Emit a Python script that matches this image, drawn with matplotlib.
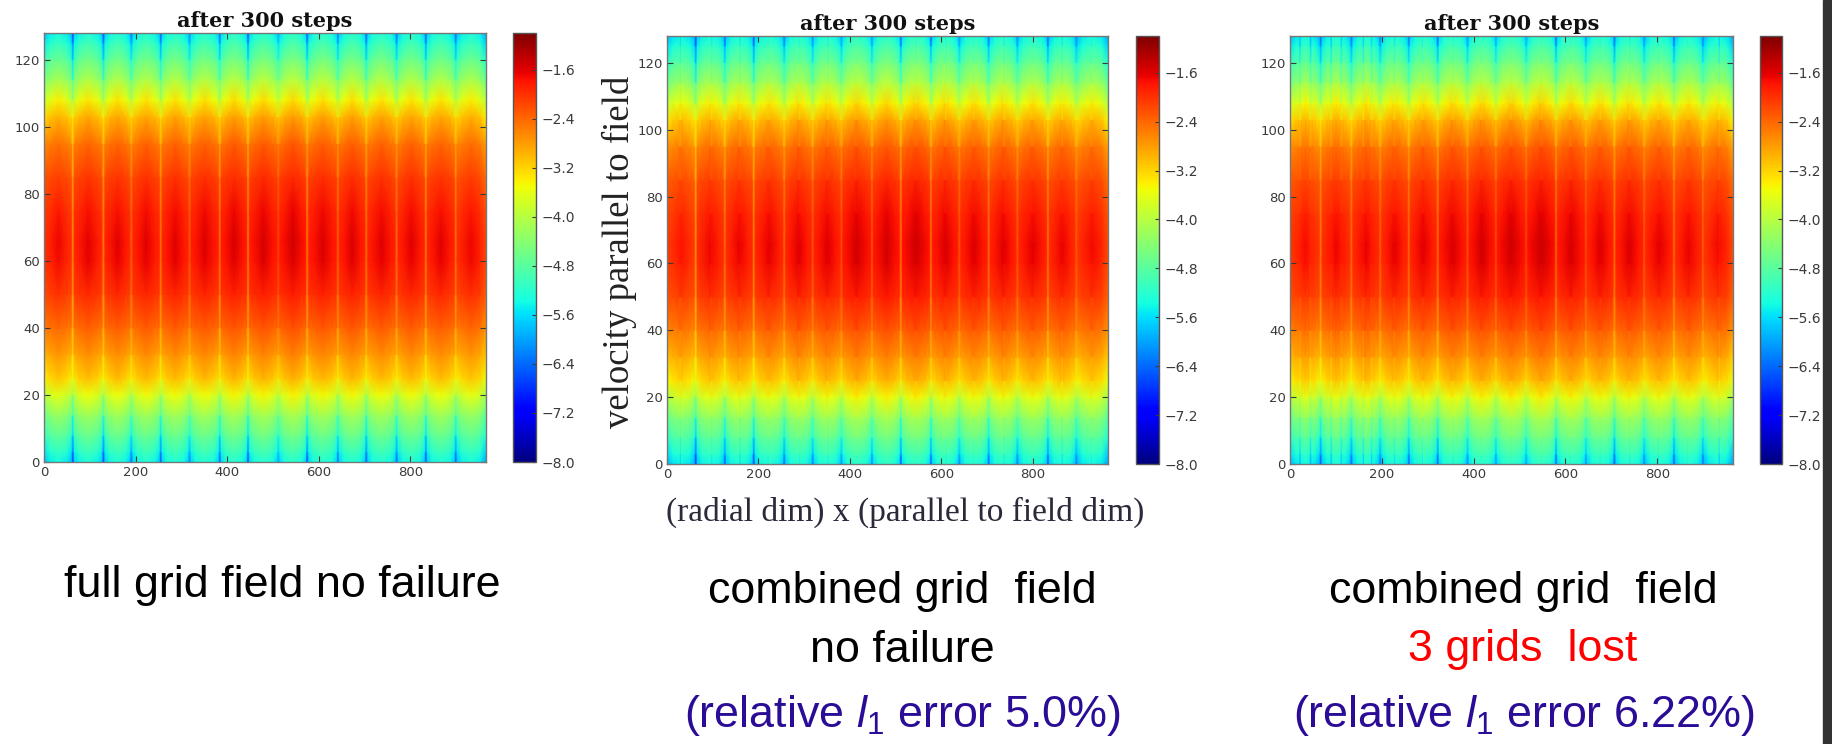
import numpy as np
import matplotlib
matplotlib.use("Agg")
import matplotlib.pyplot as plt
from matplotlib.patches import Rectangle

W, H = 1832, 744

# --- values ---------------------------------------------------------------
row_y = [0, 3, 8, 14, 20, 25, 32, 40, 50, 60, 66, 75, 85, 95, 103, 108, 114, 120, 125, 128]
crest_profile = [-5.25, -5.0, -4.6, -4.15, -3.5, -3.0, -2.65, -2.3, -1.9, -1.62, -1.58, -1.72, -2.0,
                 -2.35, -2.85, -3.3, -4.0, -4.55, -4.95, -5.25]
shoulder_profile = [-5.4, -5.15, -4.75, -4.3, -3.7, -3.15, -2.78, -2.4, -2.0, -1.82, -1.8, -1.9, -2.1,
                    -2.48, -3.0, -3.55, -4.2, -4.7, -5.15, -5.4]
near_profile = [-5.7, -5.45, -5.0, -4.5, -3.9, -3.3, -2.85, -2.45, -2.05, -1.9, -1.88, -1.96, -2.15,
                -2.55, -3.15, -3.75, -4.4, -4.95, -5.4, -5.7]
streak_profile = [-6.6, -6.2, -5.6, -5.0, -4.2, -3.5, -3.15, -2.85, -2.6, -2.45, -2.5, -2.5, -2.65,
                  -2.9, -3.35, -4.1, -4.8, -5.5, -6.1, -6.6]

x_end = 965
streaks_a = [63, 130, 191, 255, 318, 384, 446, 512, 575, 642, 704, 770, 834, 899]
streaks_b = [63, 127, 190, 257, 319, 382, 449, 512, 578, 640, 704, 767, 834, 896]
streaks_c = [67, 134, 197, 259, 322, 387, 449, 515, 580, 645, 707, 772, 837, 900]
depth_a = [0.9, 1.0, 0.7, 0.9, 0.6, 0.8, 1.0, 0.4, 1.0, 0.7, 0.9, 0.8, 0.9, 0.8]
depth_b = [0.9, 0.7, 0.9, 0.7, 0.6, 0.5, 0.6, 0.9, 0.9, 0.6, 0.8, 0.6, 0.8, 0.6]
depth_c = [0.7, 0.7, 0.6, 0.7, 0.8, 0.6, 0.5, 0.5, 0.9, 0.5, 0.9, 0.6, 0.8, 0.6]
lobe_a = [-0.10, -0.03, -0.02, -0.01, 0.0, 0.01, 0.04, 0.05, 0.07, 0.03, 0.02, 0.0, -0.01, -0.02, -0.08]
lobe_b = [-0.18, -0.08, -0.05, -0.03, 0.0, 0.02, 0.08, 0.08, 0.10, 0.04, 0.02, 0.0, -0.02, -0.05, -0.12]
lobe_c = [-0.14, -0.08, -0.05, -0.03, -0.01, 0.04, 0.08, 0.10, 0.12, 0.06, 0.02, 0.02, -0.02, -0.05, -0.12]
# weak extra furrows that roughen panels two and three
minor_b = [30, 98, 160, 222, 290, 352, 415, 545, 610, 672, 738, 800, 865, 930]
minor_b_depth = [0.22, 0.18, 0.25, 0.18, 0.14, 0.18, 0.12, 0.12, 0.16, 0.12, 0.18, 0.22, 0.25, 0.18]
minor_c = [22, 45, 90, 112, 160, 178, 228, 290, 355, 418, 482, 548, 612, 676, 740, 804, 868, 935]
minor_c_depth = [0.28, 0.32, 0.32, 0.28, 0.32, 0.25, 0.28, 0.25, 0.16, 0.12, 0.1, 0.12, 0.16, 0.16, 0.2, 0.24, 0.24, 0.28]
edge_weight = [1.4, 1.5, 1.3, 1.0, .7, .6, .4, .3, .2, .1, .1, .1, .2, .3, .6, .9, 1.1, 1.3, 1.5, 1.4]

y_ticks = [0, 20, 40, 60, 80, 100, 120]
x_ticks = [0, 200, 400, 600, 800]
cbar_ticks = [-8.0, -7.2, -6.4, -5.6, -4.8, -4.0, -3.2, -2.4, -1.6]
title = "after 300 steps"

# --- pixel boxes of the panels ---------------------------------------------
axes_px = [(44, 486, 33, 462), (667, 1108, 36, 464), (1290, 1733, 36, 464)]
cbar_px = [(513, 536, 33, 462), (1136, 1159, 36, 464), (1760, 1782, 36, 464)]


def fig_box(l, r, t, b):
    return [l / W, 1 - b / H, (r - l) / W, (b - t) / H]


def build(streaks, depth, lobes, minor, minor_depth):
    crest = np.array(crest_profile)
    shoulder = np.array(shoulder_profile)
    near = np.array(near_profile)
    streak = np.array(streak_profile)
    edges = [0] + streaks + [x_end]
    cols = [(0, near + lobes[0])]
    for j in range(len(lobes)):
        a, b = edges[j], edges[j + 1]
        off = lobes[j]
        if j > 0:
            cols.append((a + 3.5, near + off))
        cols.append((a + 13, shoulder + off))
        cols.append(((a + b) / 2, crest + off))
        cols.append((b - 13, shoulder + off))
        if j < len(streaks):
            d = depth[j]
            cols.append((b - 3.5, near + off))
            core = near + off + d * (streak - near)
            cols.append((b - 0.6, core))
            cols.append((b + 0.6, core))
    cols.append((x_end, near + lobes[-1] - 0.2))
    xs = np.array([c[0] for c in cols], dtype=float)
    zs = np.array([c[1] for c in cols]).T
    if minor:
        nx = np.array(sorted(set(xs.tolist()) | {m + s for m in minor for s in (-3, 0, 3)}))
        zn = np.array([np.interp(nx, xs, zs[i]) for i in range(zs.shape[0])])
        for m, d in zip(minor, minor_depth):
            k = np.argmin(np.abs(nx - m))
            zn[:, k] -= d * np.array(edge_weight)
        xs, zs = nx, zn
    return xs, zs


plt.rcParams["mathtext.fontset"] = "custom"
plt.rcParams["mathtext.rm"] = "Liberation Sans"
plt.rcParams["mathtext.it"] = "Liberation Sans:italic"
fig = plt.figure(figsize=(W / 100, H / 100), dpi=100, facecolor="white")

panels = [
    (streaks_a, depth_a, lobe_a, None, None),
    (streaks_b, depth_b, lobe_b, minor_b, minor_b_depth),
    (streaks_c, depth_c, lobe_c, minor_c, minor_c_depth),
]
tick_col = "#3a3a3a"
for box, cbox, spec in zip(axes_px, cbar_px, panels):
    xs, zs = build(*spec)
    ax = fig.add_axes(fig_box(*box))
    pc = ax.pcolormesh(xs, np.array(row_y, float), zs, shading="gouraud", cmap="jet", vmin=-8, vmax=-1)
    ax.set_xlim(0, x_end)
    ax.set_ylim(0, 128)
    ax.set_xticks(x_ticks)
    ax.set_yticks(y_ticks)
    ax.tick_params(direction="in", length=4, width=0.8, labelsize=9.5, colors=tick_col, pad=3,
                   top=True, right=True)
    for s in ax.spines.values():
        s.set_color("#777777")
        s.set_linewidth(1.0)
    ax.set_title(title, family="DejaVu Serif", weight="bold", fontsize=15, pad=4, color="#111111")

    cax = fig.add_axes(fig_box(*cbox))
    cb = fig.colorbar(pc, cax=cax)
    cb.set_ticks(cbar_ticks)
    cb.ax.set_yticklabels([("\u2212%.1f" % abs(t)) for t in cbar_ticks])
    cb.ax.tick_params(direction="in", length=3, width=0.8, labelsize=10, colors=tick_col, pad=4)
    cb.outline.set_edgecolor("#555555")
    cb.outline.set_linewidth(1.0)

# dark window edge at the far right
fig.add_artist(Rectangle((1823 / W, 0), 9 / W, 1, transform=fig.transFigure, color="#333333", zorder=5))


def T(x, y, s, **kw):
    fig.text(x / W, 1 - y / H, s, ha="center", va="center", **kw)


T(619, 252, "velocity parallel to field", rotation=90, family="Liberation Serif", fontsize=26.5, color="#222222")
T(905, 512, "(radial dim) x (parallel to field dim)", family="Liberation Serif", fontsize=24, color="#2a2a3a")

sans = dict(family="Liberation Sans")
FS = 32.3
T(282, 585, "full grid field no failure", fontsize=FS, color="black", **sans)
T(902, 591, "combined grid  field", fontsize=FS, color="black", **sans)
T(902, 650, "no failure", fontsize=FS, color="black", **sans)
T(1523, 591, "combined grid  field", fontsize=FS, color="black", **sans)
T(1523, 650, "3 grids  lost", fontsize=FS, color="#ff0000", **sans)
navy = "#2a0c96"
T(902, 716, r"(relative $\mathit{l}_{1}$ error 5.0%)", fontsize=FS, color=navy, **sans)
T(1524, 716, r"(relative $\mathit{l}_{1}$ error 6.22%)", fontsize=FS, color=navy, **sans)

fig.savefig("out.png", dpi=100, facecolor="white")
